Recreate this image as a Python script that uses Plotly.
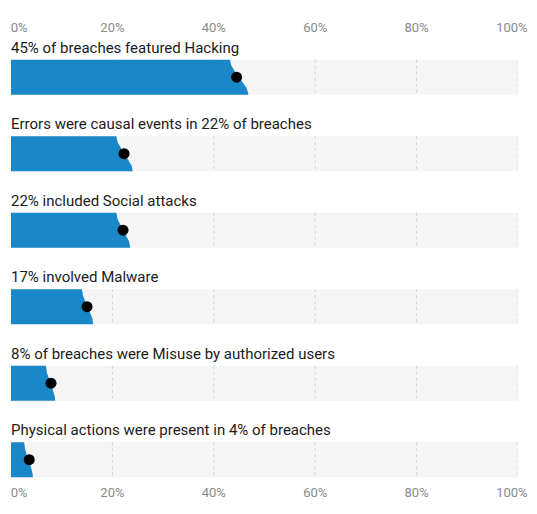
import numpy as np
import plotly.graph_objects as go

# values
labels = [
    "45% of breaches featured Hacking",
    "Errors were causal events in 22% of breaches",
    "22% included Social attacks",
    "17% involved Malware",
    "8% of breaches were Misuse by authorized users",
    "Physical actions were present in 4% of breaches",
]
point = [44.5, 22.3, 22.1, 15.0, 7.9, 3.6]
low = [43.2, 20.8, 20.8, 14.0, 6.9, 2.6]
high = [46.8, 24.0, 23.5, 16.2, 8.7, 4.3]
tick_vals = [0, 20, 40, 60, 80, 100]
tick_text = ["0%", "20%", "40%", "60%", "80%", "100%"]

BLUE = "#1a87c9"
TRACK = "#f5f5f5"
HALF = 0.229  # half bar height in category units

fig = go.Figure()
rows = list(range(len(labels)))

# grey background tracks
fig.add_trace(go.Bar(
    x=[100] * len(rows), y=rows, orientation="h", width=2 * HALF,
    marker=dict(color=TRACK, line=dict(width=0)), hoverinfo="skip", showlegend=False,
))

# dotted grid inside each track (under the blue bars)
gx, gy = [], []
for r in rows:
    for v in tick_vals[1:]:
        gx += [v, v, None]
        gy += [r - HALF, r + HALF, None]
fig.add_trace(go.Scatter(x=gx, y=gy, mode="lines", line=dict(color="#d4d4d4", width=1, dash="dot"),
                         hoverinfo="skip", showlegend=False))

# blue bars with a soft s-shaped end between low and high
t = np.linspace(0, 1, 40)
s = t * t * (3 - 2 * t)
for r, lo, hi in zip(rows, low, high):
    xs = [0] + list(lo + (hi - lo) * s) + [0]
    ys = [r - HALF] + list(r - HALF + 2 * HALF * t) + [r + HALF]
    fig.add_trace(go.Scatter(x=xs, y=ys, fill="toself", fillcolor=BLUE, mode="lines",
                             line=dict(width=0, color=BLUE), hoverinfo="skip", showlegend=False))

fig.add_trace(go.Scatter(x=point, y=rows, mode="markers",
                         marker=dict(color="black", size=11), showlegend=False))

# dummy trace so the top axis is drawn
fig.add_trace(go.Scatter(x=[0, 100], y=[0, 0], xaxis="x2", mode="markers",
                         marker=dict(opacity=0), hoverinfo="skip", showlegend=False))

annotations = [dict(x=0, y=r - HALF, xref="x", yref="y", text=lab, showarrow=False,
                    xanchor="left", yanchor="bottom", xshift=-2, yshift=1,
                    font=dict(size=15, color="#1b1b1b", family="Roboto"))
               for r, lab in zip(rows, labels)]

# end labels are pulled inward so they stay within the track ends
label_pos = [min(max(v, 1.6), 98.8) for v in tick_vals]

axis_style = dict(range=[0, 100], tickvals=label_pos, ticktext=tick_text, showgrid=False,
                  zeroline=False, showline=False, ticks="", fixedrange=True, automargin=False,
                  ticklabeloverflow="allow",
                  tickfont=dict(size=13, color="#8a8a8a", family="Roboto"))

# page body has an 8px margin, so the figure is a bit smaller than the window
fig.update_layout(
    width=521, height=498,
    margin=dict(l=3, r=11, t=28, b=23),
    plot_bgcolor="white", paper_bgcolor="white",
    barmode="overlay",
    xaxis=dict(**axis_style, side="bottom"),
    xaxis2=dict(**axis_style, side="top", overlaying="x", matches="x"),
    yaxis=dict(range=[5.305, -0.539], showticklabels=False, showgrid=False,
               zeroline=False, fixedrange=True, automargin=False),
    annotations=annotations,
)

fig.write_html("out.html")
